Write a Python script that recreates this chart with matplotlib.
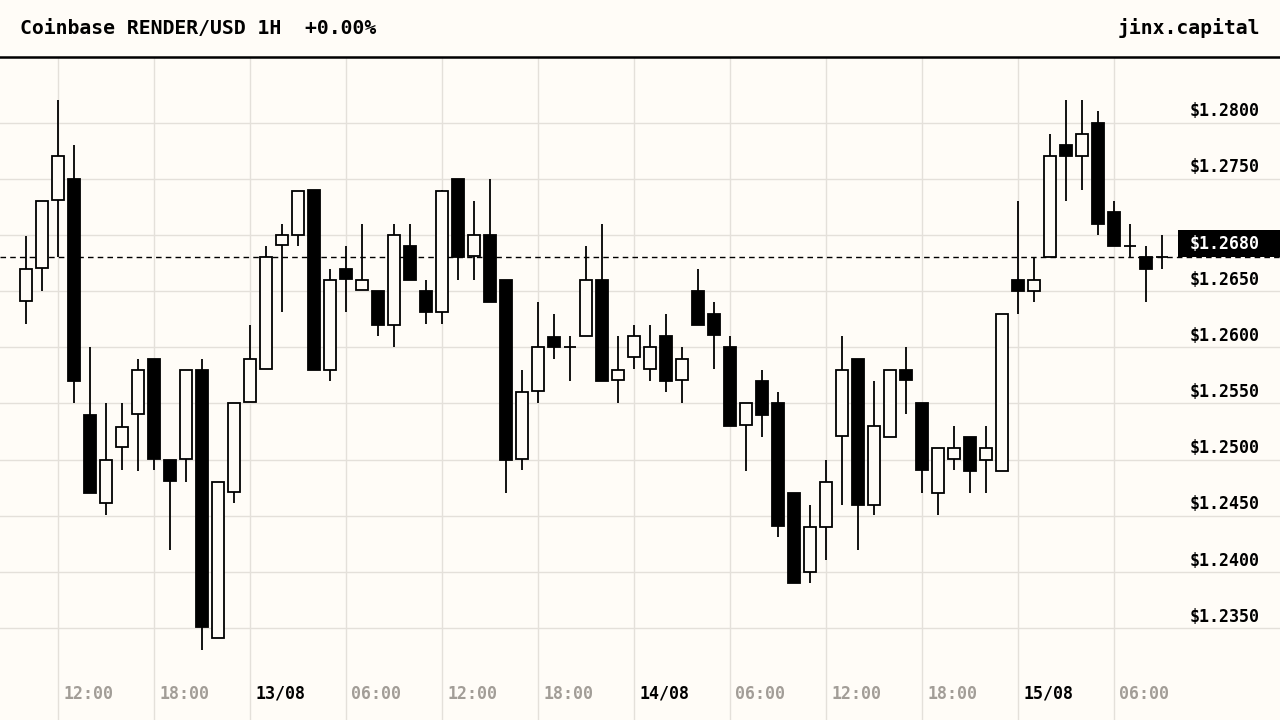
import matplotlib
matplotlib.use("Agg")
import matplotlib.pyplot as plt
import matplotlib.transforms as mtransforms
from matplotlib.lines import Line2D
from matplotlib.patches import Rectangle
import pandas as pd

# hourly candles, Coinbase RENDER/USD, 12/08 10:00 -> 15/08 09:00
start = "2024-08-12 10:00"

opens = [1.2641, 1.2671, 1.2731, 1.2750, 1.2540, 1.2461, 1.2511, 1.2541, 1.2590, 1.2500,
         1.2501, 1.2580, 1.2341, 1.2471, 1.2551, 1.2581, 1.2691, 1.2700, 1.2740, 1.2580,
         1.2670, 1.2651, 1.2650, 1.2620, 1.2690, 1.2650, 1.2631, 1.2750, 1.2681, 1.2700,
         1.2660, 1.2501, 1.2561, 1.2609, 1.2600, 1.2610, 1.2660, 1.2571, 1.2591, 1.2581,
         1.2610, 1.2571, 1.2650, 1.2630, 1.2600, 1.2531, 1.2570, 1.2550, 1.2470, 1.2400,
         1.2440, 1.2521, 1.2590, 1.2460, 1.2520, 1.2580, 1.2550, 1.2470, 1.2501, 1.2520,
         1.2500, 1.2490, 1.2660, 1.2650, 1.2680, 1.2780, 1.2770, 1.2800, 1.2720, 1.2690,
         1.2680, 1.2680]
highs = [1.2699, 1.2730, 1.2820, 1.2780, 1.2600, 1.2550, 1.2550, 1.2590, 1.2590, 1.2500,
         1.2580, 1.2590, 1.2480, 1.2550, 1.2620, 1.2690, 1.2710, 1.2739, 1.2740, 1.2670,
         1.2690, 1.2710, 1.2650, 1.2710, 1.2710, 1.2660, 1.2740, 1.2750, 1.2730, 1.2750,
         1.2660, 1.2580, 1.2640, 1.2630, 1.2610, 1.2690, 1.2710, 1.2610, 1.2620, 1.2620,
         1.2630, 1.2600, 1.2670, 1.2640, 1.2610, 1.2550, 1.2580, 1.2560, 1.2470, 1.2460,
         1.2500, 1.2610, 1.2590, 1.2570, 1.2580, 1.2600, 1.2550, 1.2510, 1.2530, 1.2520,
         1.2530, 1.2630, 1.2730, 1.2680, 1.2790, 1.2820, 1.2820, 1.2810, 1.2730, 1.2710,
         1.2690, 1.2700]
lows = [1.2621, 1.2650, 1.2680, 1.2550, 1.2470, 1.2451, 1.2491, 1.2490, 1.2491, 1.2420,
        1.2480, 1.2331, 1.2341, 1.2461, 1.2551, 1.2581, 1.2631, 1.2690, 1.2580, 1.2570,
        1.2631, 1.2651, 1.2610, 1.2600, 1.2660, 1.2621, 1.2621, 1.2660, 1.2660, 1.2640,
        1.2470, 1.2491, 1.2550, 1.2590, 1.2570, 1.2610, 1.2570, 1.2550, 1.2581, 1.2570,
        1.2560, 1.2550, 1.2620, 1.2581, 1.2530, 1.2490, 1.2520, 1.2431, 1.2390, 1.2390,
        1.2411, 1.2460, 1.2420, 1.2451, 1.2520, 1.2541, 1.2470, 1.2451, 1.2491, 1.2470,
        1.2470, 1.2490, 1.2630, 1.2640, 1.2680, 1.2730, 1.2740, 1.2700, 1.2690, 1.2680,
        1.2640, 1.2670]
closes = [1.2670, 1.2730, 1.2770, 1.2570, 1.2470, 1.2500, 1.2529, 1.2580, 1.2501, 1.2481,
          1.2580, 1.2351, 1.2480, 1.2550, 1.2590, 1.2680, 1.2700, 1.2739, 1.2580, 1.2660,
          1.2661, 1.2660, 1.2620, 1.2700, 1.2660, 1.2631, 1.2739, 1.2680, 1.2700, 1.2640,
          1.2500, 1.2560, 1.2600, 1.2600, 1.2600, 1.2660, 1.2570, 1.2580, 1.2610, 1.2600,
          1.2570, 1.2590, 1.2620, 1.2611, 1.2530, 1.2550, 1.2540, 1.2441, 1.2390, 1.2440,
          1.2480, 1.2580, 1.2460, 1.2530, 1.2580, 1.2571, 1.2491, 1.2510, 1.2510, 1.2490,
          1.2510, 1.2630, 1.2650, 1.2660, 1.2770, 1.2770, 1.2790, 1.2710, 1.2690, 1.2690,
          1.2670, 1.2680]

price_ticks = [1.2800, 1.2750, 1.2700, 1.2650, 1.2600, 1.2550, 1.2500, 1.2450, 1.2400, 1.2350]

BG = "#fffcf7"
GRID = "#e4e0da"
GREY = "#a29d97"

times = pd.date_range(start, periods=len(opens), freq="h")
idx = list(range(len(opens)))
last = closes[-1]
change = (closes[-1] - opens[-1]) / opens[-1] * 100

plt.rcParams["font.family"] = ["DejaVu Sans Mono"]
plt.rcParams["font.weight"] = "bold"

fig = plt.figure(figsize=(12.8, 7.2), dpi=100, facecolor=BG)
ax = fig.add_axes([0, 0, 1, 662 / 720])
ax.set_facecolor(BG)
for s in ax.spines.values():
    s.set_visible(False)
ax.set_xticks([])
ax.set_yticks([])
ax.set_xlim(-1.625, 78.375)
ax.set_ylim(1.22683, 1.28575)

# grid
for p in price_ticks:
    ax.axhline(p, color=GRID, lw=1.0, zorder=0)
for i, t in zip(idx, times):
    if t.hour % 6 == 0:
        ax.axvline(i, color=GRID, lw=1.0, zorder=0)

ax.axhline(last, color="black", lw=1, ls=(0, (4, 3)), zorder=1)

# candles
ax.vlines(idx, lows, highs, color="black", lw=1.3, zorder=2)
bottoms = [min(o, c) for o, c in zip(opens, closes)]
heights = [abs(c - o) for o, c in zip(opens, closes)]
fills = ["black" if c < o else BG for o, c in zip(opens, closes)]
ax.bar(idx, heights, bottom=bottoms, width=0.7, color=fills,
       edgecolor="black", linewidth=1.3, zorder=3)

# price labels on the right
off_up = mtransforms.offset_copy(ax.transData, fig=fig, x=0, y=11.5, units="dots")
lab_tr = mtransforms.blended_transform_factory(ax.transAxes, off_up)
for p in price_ticks:
    if abs(p - last) < 0.0025:
        continue
    ax.text(1260 / 1280, p, f"${p:.4f}", transform=lab_tr, ha="right", va="center",
            fontsize=12, color="black", zorder=5)

box_tr = mtransforms.blended_transform_factory(ax.transAxes, ax.transData)
ax.add_patch(Rectangle((1178 / 1280, last), 102 / 1280, 27 / 11236,
                       transform=box_tr, facecolor="black", edgecolor="none",
                       zorder=6, clip_on=False))
ax.text(1260 / 1280, last + 13.5 / 11236, f"${last:.4f}", transform=box_tr,
        ha="right", va="center", fontsize=12, color="white", zorder=7)

# time labels
x_tr = mtransforms.blended_transform_factory(ax.transData, ax.transAxes)
for i, t in zip(idx, times):
    if t.hour % 6 != 0:
        continue
    if t.hour == 0:
        txt, col = t.strftime("%d/%m"), "black"
    else:
        txt, col = t.strftime("%H:%M"), GREY
    ax.text(i + 0.34, 26 / 662, txt, transform=x_tr, ha="left", va="center",
            fontsize=12, color=col, zorder=5)

# header
fig.text(20 / 1280, 1 - 28 / 720, f"Coinbase RENDER/USD 1H  {change:+.2f}%",
         ha="left", va="center", fontsize=14.2, color="black")
fig.text(1260 / 1280, 1 - 28 / 720, "jinx.capital", ha="right", va="center",
         fontsize=14.2, color="black")
fig.add_artist(Line2D([0, 1], [1 - 57 / 720, 1 - 57 / 720], color="black", lw=1.8,
                      transform=fig.transFigure))

fig.savefig("out.png", dpi=100, facecolor=BG)
